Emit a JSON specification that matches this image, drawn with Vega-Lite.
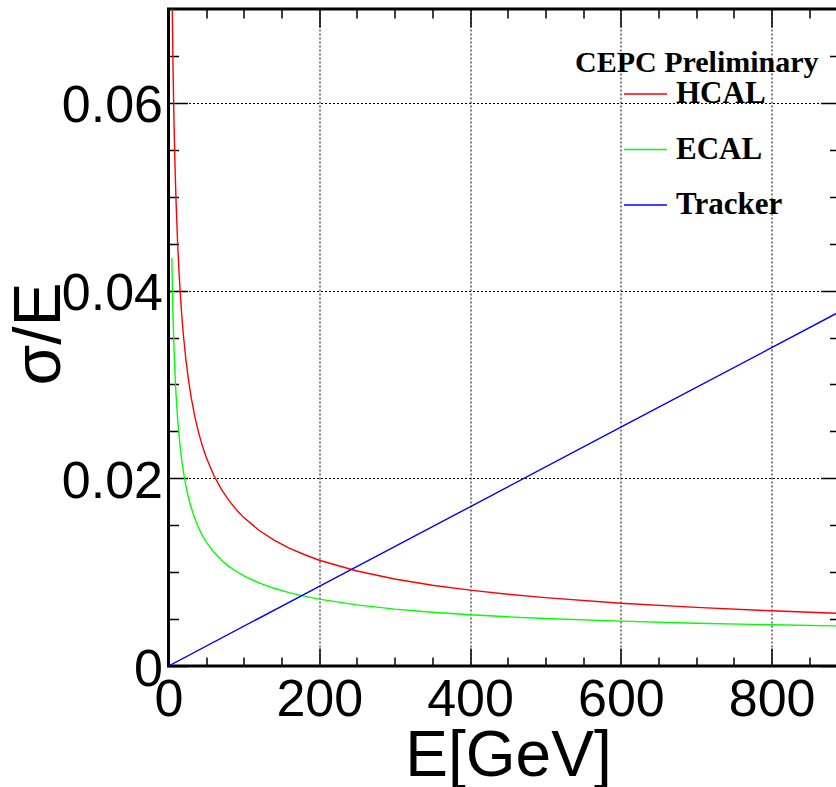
{
  "$schema": "https://vega.github.io/schema/vega-lite/v6.json",
  "autosize": {"type": "none"},
  "width": 671,
  "height": 657,
  "padding": {"left": 168.5, "top": 9, "right": 0, "bottom": 121},
  "background": "white",
  "config": {
    "view": {"stroke": "black", "strokeWidth": 3},
    "axis": {
      "domain": false,
      "labelFont": "Liberation Sans",
      "labelFontSize": 52,
      "labelColor": "black",
      "labelOverlap": false,
      "labelFlush": false,
      "titleFont": "Liberation Sans",
      "titleFontSize": 66,
      "titleFontWeight": "normal",
      "titleColor": "black",
      "tickColor": "black",
      "tickWidth": 1.5,
      "gridColor": "black",
      "gridDash": [2, 2],
      "gridWidth": 1
    }
  },
  "data": {
    "values": [
      {"E": 4.4, "v": 0.07463, "s": "HCAL"},
      {"E": 5, "v": 0.07001, "s": "HCAL"},
      {"E": 6, "v": 0.06391, "s": "HCAL"},
      {"E": 7, "v": 0.05918, "s": "HCAL"},
      {"E": 8, "v": 0.05536, "s": "HCAL"},
      {"E": 9, "v": 0.0522, "s": "HCAL"},
      {"E": 10, "v": 0.04953, "s": "HCAL"},
      {"E": 12, "v": 0.04522, "s": "HCAL"},
      {"E": 14, "v": 0.04188, "s": "HCAL"},
      {"E": 16, "v": 0.03918, "s": "HCAL"},
      {"E": 18, "v": 0.03695, "s": "HCAL"},
      {"E": 20, "v": 0.03506, "s": "HCAL"},
      {"E": 23, "v": 0.0327, "s": "HCAL"},
      {"E": 26, "v": 0.03077, "s": "HCAL"},
      {"E": 30, "v": 0.02865, "s": "HCAL"},
      {"E": 35, "v": 0.02654, "s": "HCAL"},
      {"E": 40, "v": 0.02484, "s": "HCAL"},
      {"E": 45, "v": 0.02343, "s": "HCAL"},
      {"E": 50, "v": 0.02224, "s": "HCAL"},
      {"E": 60, "v": 0.02032, "s": "HCAL"},
      {"E": 70, "v": 0.01884, "s": "HCAL"},
      {"E": 80, "v": 0.01764, "s": "HCAL"},
      {"E": 90, "v": 0.01665, "s": "HCAL"},
      {"E": 100, "v": 0.01581, "s": "HCAL"},
      {"E": 120, "v": 0.01446, "s": "HCAL"},
      {"E": 140, "v": 0.01342, "s": "HCAL"},
      {"E": 160, "v": 0.01257, "s": "HCAL"},
      {"E": 180, "v": 0.01188, "s": "HCAL"},
      {"E": 200, "v": 0.01127, "s": "HCAL"},
      {"E": 250, "v": 0.01012, "s": "HCAL"},
      {"E": 300, "v": 0.00927, "s": "HCAL"},
      {"E": 350, "v": 0.00861, "s": "HCAL"},
      {"E": 400, "v": 0.00808, "s": "HCAL"},
      {"E": 450, "v": 0.00765, "s": "HCAL"},
      {"E": 500, "v": 0.00728, "s": "HCAL"},
      {"E": 600, "v": 0.00669, "s": "HCAL"},
      {"E": 700, "v": 0.00625, "s": "HCAL"},
      {"E": 800, "v": 0.00588, "s": "HCAL"},
      {"E": 890, "v": 0.00561, "s": "HCAL"},
      {"E": 4.4, "v": 0.04348, "s": "ECAL"},
      {"E": 5, "v": 0.0408, "s": "ECAL"},
      {"E": 6, "v": 0.03727, "s": "ECAL"},
      {"E": 7, "v": 0.03452, "s": "ECAL"},
      {"E": 8, "v": 0.03231, "s": "ECAL"},
      {"E": 9, "v": 0.03048, "s": "ECAL"},
      {"E": 10, "v": 0.02893, "s": "ECAL"},
      {"E": 12, "v": 0.02644, "s": "ECAL"},
      {"E": 14, "v": 0.02451, "s": "ECAL"},
      {"E": 16, "v": 0.02295, "s": "ECAL"},
      {"E": 18, "v": 0.02166, "s": "ECAL"},
      {"E": 20, "v": 0.02057, "s": "ECAL"},
      {"E": 23, "v": 0.01922, "s": "ECAL"},
      {"E": 26, "v": 0.0181, "s": "ECAL"},
      {"E": 30, "v": 0.01689, "s": "ECAL"},
      {"E": 35, "v": 0.01568, "s": "ECAL"},
      {"E": 40, "v": 0.01471, "s": "ECAL"},
      {"E": 45, "v": 0.0139, "s": "ECAL"},
      {"E": 50, "v": 0.01323, "s": "ECAL"},
      {"E": 60, "v": 0.01214, "s": "ECAL"},
      {"E": 70, "v": 0.0113, "s": "ECAL"},
      {"E": 80, "v": 0.01062, "s": "ECAL"},
      {"E": 90, "v": 0.01007, "s": "ECAL"},
      {"E": 100, "v": 0.0096, "s": "ECAL"},
      {"E": 120, "v": 0.00885, "s": "ECAL"},
      {"E": 140, "v": 0.00828, "s": "ECAL"},
      {"E": 160, "v": 0.00782, "s": "ECAL"},
      {"E": 180, "v": 0.00744, "s": "ECAL"},
      {"E": 200, "v": 0.00713, "s": "ECAL"},
      {"E": 250, "v": 0.00651, "s": "ECAL"},
      {"E": 300, "v": 0.00606, "s": "ECAL"},
      {"E": 350, "v": 0.00573, "s": "ECAL"},
      {"E": 400, "v": 0.00546, "s": "ECAL"},
      {"E": 450, "v": 0.00524, "s": "ECAL"},
      {"E": 500, "v": 0.00506, "s": "ECAL"},
      {"E": 600, "v": 0.00478, "s": "ECAL"},
      {"E": 700, "v": 0.00456, "s": "ECAL"},
      {"E": 800, "v": 0.00439, "s": "ECAL"},
      {"E": 890, "v": 0.00427, "s": "ECAL"},
      {"E": 0, "v": 0, "s": "Tracker"},
      {"E": 200, "v": 0.00848, "s": "Tracker"},
      {"E": 400, "v": 0.01696, "s": "Tracker"},
      {"E": 600, "v": 0.02544, "s": "Tracker"},
      {"E": 800, "v": 0.03392, "s": "Tracker"},
      {"E": 890, "v": 0.03774, "s": "Tracker"}
    ]
  },
  "resolve": {"axis": {"x": "independent", "y": "independent"}},
  "layer": [
    {
      "mark": {"type": "line", "clip": true, "strokeWidth": 1.4},
      "encoding": {
        "x": {
          "field": "E", "type": "quantitative",
          "scale": {"domain": [0, 890], "nice": false, "zero": false},
          "axis": {
            "orient": "bottom",
            "title": "E[GeV]",
            "titleFontSize": 64,
            "titleX": 339.5,
            "titleY": 109,
            "titleAlign": "center",
            "titleBaseline": "alphabetic",
            "values": [0, 50, 100, 150, 200, 250, 300, 350, 400, 450, 500, 550, 600, 650, 700, 750, 800, 850],
            "labelExpr": "datum.value % 200 == 0 ? format(datum.value, 'd') : ''",
            "labelPadding": 26,
            "grid": true,
            "gridOpacity": {"condition": {"test": "datum.value % 200 == 0 && datum.value > 0", "value": 1}, "value": 0},
            "tickSize": {"condition": {"test": "datum.value % 200 == 0", "value": -18}, "value": -9}
          }
        },
        "y": {
          "field": "v", "type": "quantitative",
          "scale": {"domain": [0, 0.07], "nice": false, "zero": false},
          "axis": {
            "orient": "left",
            "title": "σ/E",
            "titleX": -109,
            "titleY": 324.5,
            "titleAlign": "center",
            "titleBaseline": "alphabetic",
            "titleAngle": -90,
            "values": [0, 0.005, 0.01, 0.015, 0.02, 0.025, 0.03, 0.035, 0.04, 0.045, 0.05, 0.055, 0.06, 0.065],
            "labelExpr": "round(datum.value * 1000) % 20 == 0 ? (datum.value == 0 ? '0' : format(datum.value, '.2f')) : ''",
            "labelPadding": 25,
            "labelOffset": 3,
            "grid": true,
            "gridOpacity": {"condition": {"test": "round(datum.value * 1000) % 20 == 0 && datum.value > 0", "value": 1}, "value": 0},
            "tickSize": {"condition": {"test": "round(datum.value * 1000) % 20 == 0", "value": -19}, "value": -10}
          }
        },
        "color": {
          "field": "s", "type": "nominal",
          "scale": {"domain": ["HCAL", "ECAL", "Tracker"], "range": ["#ff0000", "#00ff00", "#0000ff"]},
          "legend": {
            "orient": "none",
            "legendX": 406.5,
            "legendY": 39,
            "padding": 0,
            "title": "CEPC Preliminary",
            "titleFont": "Liberation Serif",
            "titleFontSize": 30,
            "titleFontWeight": "bold",
            "titleColor": "black",
            "titleLimit": 400,
            "titlePadding": -6.5,
            "labelFont": "Liberation Serif",
            "labelFontSize": 31,
            "labelFontWeight": "bold",
            "labelColor": "black",
            "labelOffset": 8,
            "labelLimit": 300,
            "symbolType": "stroke",
            "symbolSize": 1849,
            "symbolStrokeWidth": 1.5,
            "symbolOffset": 48,
            "rowPadding": 17.5
          }
        }
      }
    },
    {
      "mark": {"type": "point", "opacity": 0, "clip": true},
      "encoding": {
        "x": {
          "field": "E", "type": "quantitative",
          "axis": {
            "orient": "top",
            "title": null,
            "values": [0, 50, 100, 150, 200, 250, 300, 350, 400, 450, 500, 550, 600, 650, 700, 750, 800, 850],
            "labels": false,
            "grid": false,
            "tickSize": {"condition": {"test": "datum.value % 200 == 0", "value": -18}, "value": -9}
          }
        },
        "y": {
          "field": "v", "type": "quantitative",
          "axis": {
            "orient": "right",
            "title": null,
            "values": [0, 0.005, 0.01, 0.015, 0.02, 0.025, 0.03, 0.035, 0.04, 0.045, 0.05, 0.055, 0.06, 0.065],
            "labels": false,
            "grid": false,
            "tickSize": {"condition": {"test": "round(datum.value * 1000) % 20 == 0", "value": -19}, "value": -10}
          }
        }
      }
    }
  ]
}
